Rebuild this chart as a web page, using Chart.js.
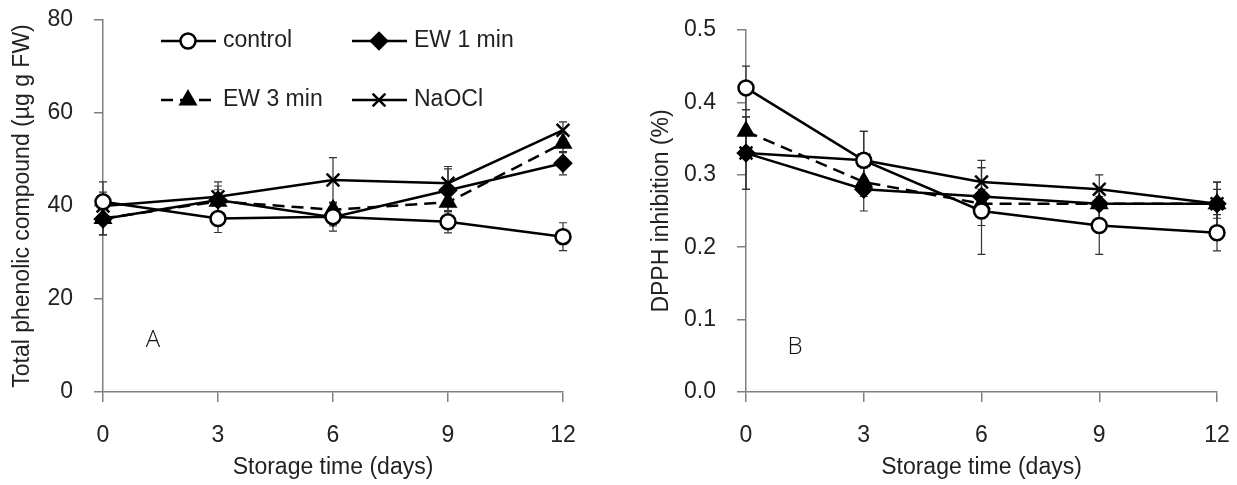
<!DOCTYPE html>
<html>
<head>
<meta charset="utf-8">
<script src="https://cdn.jsdelivr.net/npm/chart.js@4"></script>
<style>
  body { margin: 0; background: #fff; }
  .panel { position: absolute; top: 0; height: 485px; }
</style>
</head>
<body>
<div class="panel" style="left:0;width:620px"><canvas id="phenolChart" width="620" height="485"></canvas></div>
<div class="panel" style="left:620px;width:617px"><canvas id="dpphChart" width="617" height="485"></canvas></div>
<script>
// storage days (x axis)
const days = [0, 3, 6, 9, 12];
const seriesNames = ["control", "EW 1 min", "EW 3 min", "NaOCl"];

// Panel A - total phenolic compound (ug g FW)
const phenControl = [40.9, 37.3, 37.7, 36.6, 33.4];
const phenEW1 = [37.2, 41.3, 37.6, 43.4, 49.2];
const phenEW3 = [37.3, 41.0, 39.2, 40.8, 53.5];
const phenNaOCl = [40.0, 42.0, 45.6, 44.9, 56.3];
const phenControlErr = [4.3, 3.0, 2.0, 2.4, 3.0];
const phenEW1Err = [3.4, 3.0, 3.0, 4.6, 2.5];
const phenEW3Err = [3.5, 2.5, 1.6, 2.0, 2.0];
const phenNaOClErr = [3.0, 3.2, 4.8, 3.6, 1.8];
const phenTicks = [0, 20, 40, 60, 80];

// Panel B - DPPH inhibition (%)
const dpphControl = [0.42, 0.32, 0.25, 0.23, 0.22];
const dpphEW1 = [0.33, 0.28, 0.27, 0.26, 0.26];
const dpphEW3 = [0.36, 0.29, 0.26, 0.26, 0.26];
const dpphNaOCl = [0.33, 0.32, 0.29, 0.28, 0.26];
const dpphControlErr = [0.03, 0.04, 0.06, 0.04, 0.025];
const dpphEW1Err = [0.05, 0.03, 0.04, 0.02, 0.02];
const dpphEW3Err = [0.03, 0.02, 0.02, 0.02, 0.03];
const dpphNaOClErr = [0.05, 0.04, 0.03, 0.02, 0.03];
const dpphTicks = [0, 0.1, 0.2, 0.3, 0.4, 0.5];

const FONT = '"Liberation Sans", Arial, sans-serif';
const AXIS_GREY = "#808080";

// marker look of each treatment
const styles = [
    { pointStyle: "circle", pointRadius: 7.5, pointBackgroundColor: "#fff", borderDash: [] },
    { pointStyle: "rectRot", pointRadius: 8, pointBackgroundColor: "#000", borderDash: [] },
    { pointStyle: "triangle", pointRadius: 8.5, pointBackgroundColor: "#000", borderDash: [12, 7] },
    { pointStyle: "crossRot", pointRadius: 9, pointBackgroundColor: "#000", borderDash: [] }
];

function makeDatasets(valueLists, errLists) {
    return valueLists.map((vals, i) => ({
        label: seriesNames[i],
        data: days.map((d, j) => ({ x: d, y: vals[j] })),
        errors: errLists[i],
        borderColor: "#000",
        borderWidth: 2.5,
        borderDash: styles[i].borderDash,
        pointStyle: styles[i].pointStyle,
        pointRadius: styles[i].pointRadius,
        pointBackgroundColor: styles[i].pointBackgroundColor,
        pointBorderColor: "#000",
        pointBorderWidth: 2.5,
        tension: 0,
        clip: false
    }));
}

// error bars drawn under the lines
const errorBars = {
    id: "errorBars",
    beforeDatasetsDraw(chart) {
        const ctx = chart.ctx;
        const yScale = chart.scales.y;
        ctx.save();
        ctx.strokeStyle = "#333";
        ctx.lineWidth = 1.2;
        chart.data.datasets.forEach((ds, i) => {
            const meta = chart.getDatasetMeta(i);
            meta.data.forEach((pt, j) => {
                const v = ds.data[j].y, e = ds.errors[j];
                const top = yScale.getPixelForValue(v + e);
                const bot = yScale.getPixelForValue(v - e);
                ctx.beginPath();
                ctx.moveTo(pt.x, top); ctx.lineTo(pt.x, bot);
                ctx.moveTo(pt.x - 4, top); ctx.lineTo(pt.x + 4, top);
                ctx.moveTo(pt.x - 4, bot); ctx.lineTo(pt.x + 4, bot);
                ctx.stroke();
            });
        });
        ctx.restore();
    }
};

// panel letter placed in data coordinates
const panelLetter = {
    id: "panelLetter",
    afterDraw(chart, args, opts) {
        const ctx = chart.ctx;
        ctx.save();
        ctx.font = '300 24px "Open Sans", "DejaVu Sans", sans-serif';
        ctx.fillStyle = "#111";
        ctx.textAlign = "center";
        ctx.textBaseline = "middle";
        ctx.fillText(opts.text, chart.scales.x.getPixelForValue(opts.x), chart.scales.y.getPixelForValue(opts.y));
        ctx.restore();
    }
};

// 2x2 legend inside panel A
const insideLegend = {
    id: "insideLegend",
    afterDraw(chart, args, opts) {
        if (!opts.show) return;
        const ctx = chart.ctx;
        const cols = [161, 352], rows = [41, 100];
        chart.data.datasets.forEach((ds, i) => {
            const x0 = cols[i % 2], y = rows[Math.floor(i / 2)];
            ctx.save();
            ctx.strokeStyle = "#000";
            ctx.lineWidth = 2.5;
            ctx.setLineDash(ds.borderDash);
            ctx.beginPath();
            ctx.moveTo(x0, y); ctx.lineTo(x0 + 55, y);
            ctx.stroke();
            ctx.setLineDash([]);
            ctx.fillStyle = ds.pointBackgroundColor;
            Chart.helpers.drawPoint(ctx, {
                pointStyle: ds.pointStyle, radius: ds.pointRadius, rotation: 0, borderWidth: 2.5
            }, x0 + 27, y);
            ctx.fillStyle = "#222";
            ctx.font = "23px " + FONT;
            ctx.textBaseline = "middle";
            ctx.fillText(ds.label, x0 + 62, y);
            ctx.restore();
        });
    }
};

function noScalePadding(s) {
    s.paddingTop = 0; s.paddingBottom = 0; s.paddingLeft = 0; s.paddingRight = 0;
}

function makeChart(id, datasets, cfg) {
    return new Chart(document.getElementById(id), {
        type: "line",
        data: { datasets: datasets },
        plugins: [errorBars, panelLetter, insideLegend],
        options: {
            responsive: false,
            animation: false,
            layout: { padding: { left: 0, right: cfg.padRight, top: cfg.padTop, bottom: 0 } },
            plugins: {
                legend: { display: false },
                tooltip: { enabled: false },
                panelLetter: cfg.letter,
                insideLegend: { show: cfg.legend }
            },
            scales: {
                x: {
                    type: "linear",
                    min: 0, max: 12,
                    afterBuildTicks: s => { s.ticks = days.map(v => ({ value: v })); },
                    afterFit: s => { s.height = 93; noScalePadding(s); },
                    grid: { drawOnChartArea: false, color: AXIS_GREY, tickLength: 10, lineWidth: 1.5 },
                    border: { color: AXIS_GREY, width: 1.5 },
                    ticks: { color: "#222", padding: 20, font: { family: FONT, size: 23 } },
                    title: {
                        display: true, text: "Storage time (days)", color: "#222",
                        font: { family: FONT, size: 23 }, padding: { top: 0, bottom: 4 }
                    }
                },
                y: {
                    type: "linear",
                    min: cfg.yTicks[0], max: cfg.yTicks[cfg.yTicks.length - 1],
                    afterBuildTicks: s => { s.ticks = cfg.yTicks.map(v => ({ value: v })); },
                    afterFit: s => { s.width = cfg.yWidth; noScalePadding(s); },
                    grid: { drawOnChartArea: false, color: AXIS_GREY, tickLength: 9, lineWidth: 1.5 },
                    border: { color: AXIS_GREY, width: 1.5 },
                    ticks: {
                        color: "#222", padding: 21, font: { family: FONT, size: 23 },
                        callback: v => cfg.decimals ? v.toFixed(cfg.decimals) : String(v)
                    },
                    title: {
                        display: true, text: cfg.yTitle, color: "#222",
                        font: { family: FONT, size: 23 }, padding: { top: cfg.titlePad, bottom: 0 }
                    }
                }
            }
        }
    });
}

// Panel A
makeChart("phenolChart",
    makeDatasets([phenControl, phenEW1, phenEW3, phenNaOCl],
                 [phenControlErr, phenEW1Err, phenEW3Err, phenNaOClErr]),
    {
        yTicks: phenTicks, decimals: 0, yWidth: 103, padRight: 57, padTop: 20,
        yTitle: "Total phenolic compound (µg g FW)", titlePad: 9,
        letter: { text: "A", x: 1.3, y: 11.2 }, legend: true
    });

// Panel B
makeChart("dpphChart",
    makeDatasets([dpphControl, dpphEW1, dpphEW3, dpphNaOCl],
                 [dpphControlErr, dpphEW1Err, dpphEW3Err, dpphNaOClErr]),
    {
        yTicks: dpphTicks, decimals: 1, yWidth: 126, padRight: 20, padTop: 30,
        yTitle: "DPPH inhibition (%)", titlePad: 28,
        letter: { text: "B", x: 1.25, y: 0.062 }, legend: false
    });
</script>
</body>
</html>
